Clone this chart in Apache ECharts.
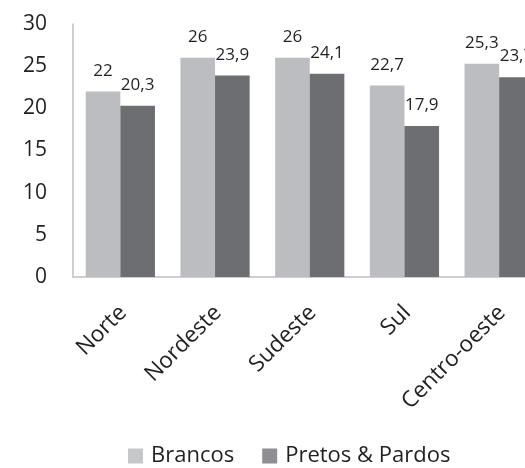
<!DOCTYPE html>
<html>
<head>
<meta charset="utf-8">
<script src="https://cdn.jsdelivr.net/npm/echarts@6/dist/echarts.min.js"></script>
<style>
  html, body { margin: 0; padding: 0; background: #fff; }
  #chart { width: 525px; height: 468px; }
</style>
</head>
<body>
<div id="chart"></div>
<script>
var regioes = ['Norte', 'Nordeste', 'Sudeste', 'Sul', 'Centro-oeste']
var brancos = [22, 26, 26, 22.7, 25.3]
var pretosPardos = [20.3, 23.9, 24.1, 17.9, 23.7]
var nomesSeries = ['Brancos', 'Pretos & Pardos']

var fonte = '"Open Sans", "Noto Sans", sans-serif'
var corTexto = '#231f20'

// rótulo com vírgula decimal
function virgula(p) {
    return String(p.value).replace('.', ',')
}

var myChart = echarts.init(document.getElementById('chart'))

var option = {
    animation: false,
    // a área do gráfico passa da borda direita (Centro-oeste cortado)
    grid: {
        left: 73, width: 473.5, top: 24, height: 253,
        containLabel: false, outerBoundsMode: 'none'
    },
    legend: {
        left: 128,
        top: 445,
        padding: 0,
        icon: 'rect',
        itemWidth: 15,
        itemHeight: 15,
        itemGap: 28,
        textStyle: { fontFamily: fonte, fontSize: 22, color: corTexto, padding: [0, 0, 0, 3] },
        data: [
            { name: nomesSeries[0], itemStyle: { color: '#c6c7c9' } },
            { name: nomesSeries[1], itemStyle: { color: '#8e8f93' } }
        ]
    },
    xAxis: {
        type: 'category',
        data: regioes,
        axisLine: { lineStyle: { color: '#bfbfbf', width: 1.5 } },
        axisTick: { show: false },
        axisLabel: {
            rotate: 45,
            margin: 35,
            interval: 0,
            padding: [0, -4, 0, 0],
            fontFamily: fonte,
            fontSize: 22.5,
            color: corTexto
        }
    },
    yAxis: {
        type: 'value',
        min: 0,
        max: 30,
        interval: 5,
        splitLine: { show: false },
        axisLine: { show: true, lineStyle: { color: '#bfbfbf', width: 1.5 } },
        axisTick: { show: false },
        axisLabel: { margin: 26, fontFamily: fonte, fontSize: 21, color: corTexto }
    },
    series: [
        {
            name: nomesSeries[0],
            type: 'bar',
            data: brancos,
            barWidth: 34.6,
            barGap: '0%',
            itemStyle: { color: '#bcbdc0' },
            label: {
                show: true, position: 'top', distance: 12, formatter: virgula,
                fontFamily: fonte, fontSize: 17, color: corTexto
            }
        },
        {
            name: nomesSeries[1],
            type: 'bar',
            data: pretosPardos,
            barWidth: 34.6,
            barGap: '0%',
            itemStyle: { color: '#6d6e72' },
            label: {
                show: true, position: 'top', distance: 12, formatter: virgula,
                fontFamily: fonte, fontSize: 17, color: corTexto
            }
        }
    ]
}

myChart.setOption(option)
</script>
</body>
</html>
